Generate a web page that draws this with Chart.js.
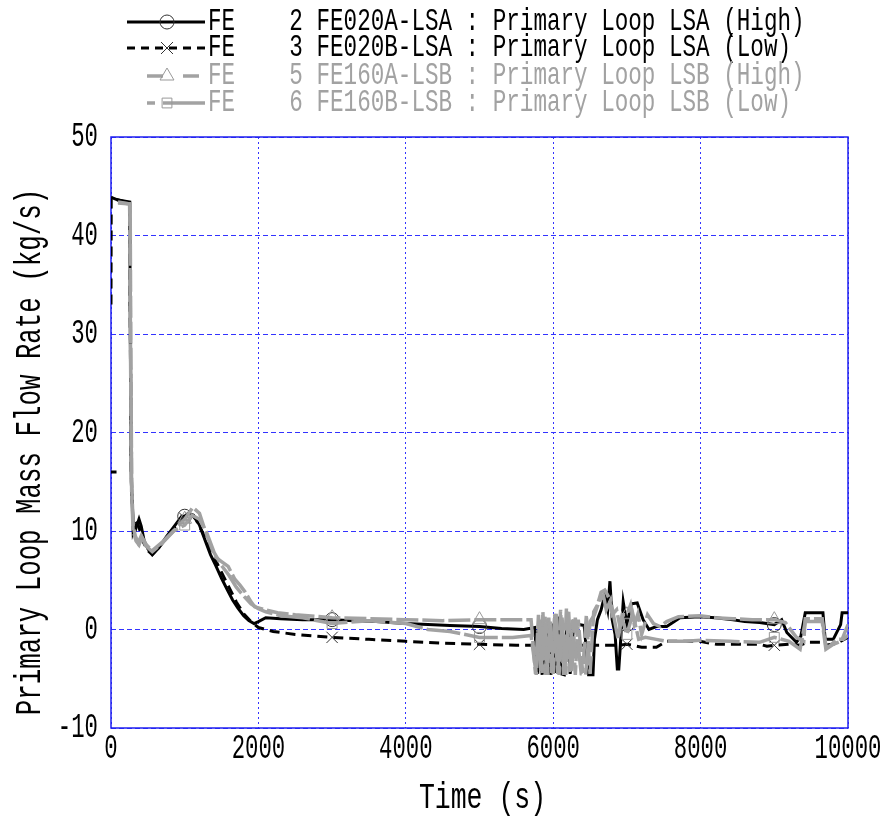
<!DOCTYPE html>
<html>
<head>
<meta charset="utf-8">
<script src="https://cdn.jsdelivr.net/npm/chart.js@4.4.1/dist/chart.umd.min.js"></script>
<style>
  html, body { margin: 0; padding: 0; background: #fff; }
  canvas { display: block; }
</style>
</head>
<body>
<canvas id="flow" width="886" height="816"></canvas>
<script>
// primary loop mass flow rate (kg/s) against time (s), four flow meters

// FE 2  FE020A-LSA  loop A high range
const fe2Time = [
  0, 30, 95, 255, 262, 275, 300, 340, 380, 410,
  450, 500, 560, 650, 750, 850, 960, 1000, 1050, 1120,
  1200, 1280, 1350, 1420, 1500, 1580, 1650, 1720, 1800, 1870,
  1940, 2000, 2100, 2300, 2600, 3000, 3300, 3600, 4000, 4300,
  4600, 5000, 5300, 5600, 5750, 5790, 5810, 5850, 5870, 5910,
  5930, 5970, 5990, 6030, 6060, 6110, 6150, 6190, 6230, 6280,
  6350, 6420, 6480, 6500, 6540, 6560, 6600, 6650, 6700, 6740,
  6770, 6800, 6840, 6870, 6890, 6950, 7000, 7060, 7140, 7220,
  7300, 7400, 7540, 7720, 7990, 8200, 8440, 8600, 8800, 9000,
  9100, 9170, 9300, 9360, 9420, 9500, 9660, 9690, 9720, 9800,
  9900, 9920, 10000
];
const fe2Flow = [
  43.9, 43.8, 43.6, 43.4, 30, 15, 11, 10.3, 11.2, 10.5,
  9.0, 8.2, 7.6, 8.3, 9.4, 10.4, 11.5, 11.5, 11.8, 11.6,
  10.6, 9.0, 7.6, 6.5, 5.2, 4.0, 3.0, 2.2, 1.4, 0.9,
  0.6, 0.8, 1.2, 1.1, 1.0, 1.0, 0.9, 0.8, 0.6, 0.5,
  0.4, 0.3, 0.1, 0.0, 0.2, -4.5, 0.6, -4.6, 0.9, -4.5,
  1.0, -4.6, 0.6, -4.4, 1.3, -4.5, -4.6, 1.0, -4.5, 0.8,
  0.5, 0.4, -4.6, -4.6, -4.6, -1.0, 1.0, 2.0, 3.5, 2.0,
  4.9, 1.0, -0.5, -4.0, -4.0, 2.8, 0.5, 2.6, 2.7, 1.0,
  0.0, 0.3, 0.3, 1.2, 1.3, 1.2, 1.0, 0.8, 0.7, 0.5,
  1.0, -0.3, -1.3, -0.7, 1.7, 1.7, 1.7, -1.0, -1.0, -1.0,
  0.5, 1.7, 1.7
];

// FE 3  FE020B-LSA  loop A low range (short record at 16 kg/s before the trace starts)
const fe3Time = [
  0, 75, 76, 0, 3, 250, 262, 275, 300, 340,
  380, 430, 500, 560, 700, 850, 1000, 1080, 1150, 1280,
  1400, 1500, 1600, 1700, 1800, 1900, 2000, 2200, 2500, 3000,
  3500, 4000, 4500, 5000, 5500, 5800, 6000, 6300, 6600, 6900,
  7000, 7200, 7400, 7540, 7800, 7990, 8220, 8500, 8800, 8900,
  9000, 9200, 9350, 9450, 9650, 9700, 9850, 10000
];
const fe3Flow = [
  16, 16, null, 33, 43.8, 43.3, 30, 16, 10, 11,
  10.4, 9.0, 8.0, 7.6, 8.8, 10.3, 11.3, 11.8, 11.2, 9.3,
  7.3, 5.8, 4.3, 2.8, 1.6, 0.8, 0.2, -0.2, -0.5, -0.8,
  -1.0, -1.2, -1.4, -1.5, -1.6, -1.6, -1.6, -1.6, -1.6, -1.6,
  -1.5, -1.8, -1.8, -1.2, -1.2, -1.2, -1.5, -1.5, -1.5, -1.7,
  -1.6, -1.5, -1.6, -1.3, -1.3, -1.6, -1.4, -0.8
];

// FE 5  FE160A-LSB  loop B high range
const fe5Time = [
  95, 260, 268, 280, 300, 330, 370, 410, 470, 560,
  700, 850, 1000, 1110, 1200, 1275, 1350, 1410, 1500, 1590,
  1680, 1750, 1820, 1900, 1950, 2090, 2260, 2500, 3000, 3500,
  4000, 4500, 5000, 5400, 5700, 5760, 5800, 5830, 5860, 5900,
  5940, 5980, 6020, 6060, 6100, 6140, 6180, 6220, 6260, 6300,
  6340, 6400, 6450, 6500, 6550, 6600, 6650, 6700, 6760, 6800,
  6860, 6900, 6950, 7000, 7050, 7100, 7150, 7200, 7280, 7360,
  7450, 7540, 7700, 7990, 8200, 8440, 8700, 9000, 9150, 9300,
  9400, 9420, 9650, 9700, 9750, 9850, 9920, 10000
];
const fe5Flow = [
  43.3, 43.2, 30, 15, 10.5, 9.5, 8.8, 9.5, 8.5, 7.9,
  8.8, 10.0, 11.2, 12.4, 11.8, 10.1, 8.6, 7.4, 6.9, 6.4,
  5.1, 4.5, 3.8, 2.8, 2.3, 2.0, 1.7, 1.5, 1.2, 1.1,
  1.0, 0.9, 1.0, 1.0, 1.0, -4.5, 1.5, -4.2, 1.8, -4.6,
  1.2, -4.4, 1.6, -4.5, 2.0, -4.6, 2.2, -4.3, 1.0, -4.6,
  1.0, -4.4, 1.5, -4.5, 1.8, 2.5, 3.8, 4.0, 3.2, 1.5,
  2.0, 0.5, 1.5, 1.5, 2.5, 0.5, 1.6, -0.5, 1.5, 0.6,
  0.3, 0.8, 1.3, 1.4, 1.2, 1.1, 1.0, 1.0, 0.7, -0.8,
  -1.2, 1.1, 1.1, -1.7, -1.7, -1.0, -1.0, 0.5
];

// FE 6  FE160B-LSB  loop B low range
const fe6Time = [
  95, 255, 265, 280, 300, 340, 380, 420, 480, 560,
  700, 850, 1000, 1100, 1200, 1300, 1400, 1500, 1600, 1700,
  1800, 1900, 2000, 2100, 2300, 2600, 3000, 3500, 4000, 4150,
  4300, 4600, 5000, 5450, 5700, 5770, 5820, 5850, 5890, 5920,
  5960, 6000, 6040, 6080, 6120, 6170, 6210, 6250, 6300, 6380,
  6440, 6500, 6560, 6620, 6680, 6720, 6780, 6830, 6880, 6930,
  7000, 7080, 7160, 7250, 7400, 7540, 7800, 8000, 8400, 8800,
  9000, 9200, 9350, 9420, 9650, 9700, 9800, 9900, 10000
];
const fe6Flow = [
  43.4, 43.2, 28, 14, 10.0, 9.0, 8.6, 9.4, 8.6, 8.0,
  8.9, 10.0, 10.6, 11.6, 11.2, 9.8, 7.8, 6.5, 5.5, 4.3,
  3.4, 2.6, 2.1, 1.8, 1.4, 1.2, 0.6, 0.9, 0.6, 0.3,
  0.0, -0.2, -0.8, -0.8, -0.6, -4.6, 1.0, -4.4, 1.3, -4.6,
  0.8, -4.5, 1.6, -4.6, 1.2, -4.6, 1.8, -4.4, 1.2, -4.5,
  -4.6, 0.8, 1.5, 2.8, 3.5, 2.0, 3.0, 1.0, -1.0, 1.2,
  -0.5, 1.6, -1.0, -0.8, -1.0, -1.2, -1.2, -1.1, -1.2, -1.3,
  -0.8, -1.2, -2.0, 0.8, 0.8, -2.0, -1.5, -1.2, -0.6
];

// marker symbols sit on these times only
const markTimes = [1000, 3000, 5000, 7000, 9000];

const legendNames = [
  'FE    2 FE020A-LSA : Primary Loop LSA (High)',
  'FE    3 FE020B-LSA : Primary Loop LSA (Low)',
  'FE    5 FE160A-LSB : Primary Loop LSB (High)',
  'FE    6 FE160B-LSB : Primary Loop LSB (Low)'
];
const xTitle = 'Time (s)';
const yTitle = 'Primary Loop Mass Flow Rate (kg/s)';

const BLACK = '#000000';
const GRAY = '#a2a2a2';
const BLUE = '#2020f0';
const GRID = '#3333ff';
const MONO = '"Liberation Mono", "DejaVu Sans Mono", monospace';

function pairs(ts, vs) {
  return ts.map((t, i) => ({ x: t, y: vs[i] }));
}

function markRadius(r) {
  return c => (c.raw && markTimes.includes(c.raw.x)) ? r : 0;
}

const series = [
  { data: pairs(fe2Time, fe2Flow), color: BLACK, width: 3, dash: [], point: 'circle', r: 7, order: 4,
    legendDash: [], legendFrom: 127 },
  { data: pairs(fe3Time, fe3Flow), color: BLACK, width: 3, dash: [10, 6], point: 'crossRot', r: 8, order: 3,
    legendDash: [8, 6], legendFrom: 127 },
  { data: pairs(fe5Time, fe5Flow), color: GRAY, width: 3.5, dash: [22, 4], point: 'triangle', r: 8, order: 2,
    legendDash: [16, 20], legendFrom: 147 },
  { data: pairs(fe6Time, fe6Flow), color: GRAY, width: 3.5, dash: [34, 4], point: 'rect', r: 7, order: 1,
    legendDash: [8, 8, 60], legendFrom: 147 }
];

// half-width gothic look: monospace stretched vertically
function tallText(ctx, str, x, y, o) {
  ctx.save();
  ctx.translate(x, y);
  if (o.rot) ctx.rotate(o.rot);
  ctx.scale(1, o.stretch || 1.45);
  ctx.font = o.size + 'px ' + MONO;
  ctx.fillStyle = o.color || BLACK;
  ctx.textAlign = o.align || 'left';
  ctx.textBaseline = 'middle';
  ctx.fillText(str, 0, 0);
  ctx.restore();
}

function drawMarker(ctx, style, x, y, r, color) {
  ctx.save();
  ctx.strokeStyle = color;
  ctx.lineWidth = 1;
  ctx.setLineDash([]);
  ctx.beginPath();
  if (style === 'circle') {
    ctx.arc(x, y, r, 0, Math.PI * 2);
  } else if (style === 'crossRot') {
    const d = r * 0.75;
    ctx.moveTo(x - d, y - d); ctx.lineTo(x + d, y + d);
    ctx.moveTo(x + d, y - d); ctx.lineTo(x - d, y + d);
  } else if (style === 'triangle') {
    ctx.moveTo(x, y - r); ctx.lineTo(x + r * 0.87, y + r * 0.5); ctx.lineTo(x - r * 0.87, y + r * 0.5);
    ctx.closePath();
  } else {
    ctx.rect(x - r * 0.7, y - r * 0.7, r * 1.4, r * 1.4);
  }
  ctx.stroke();
  ctx.restore();
}

// plot frame, drawn under the curves
const framePlugin = {
  id: 'frame',
  beforeDatasetsDraw(chart) {
    const a = chart.chartArea, ctx = chart.ctx;
    ctx.save();
    ctx.strokeStyle = BLUE;
    ctx.lineWidth = 1.5;
    ctx.strokeRect(a.left, a.top, a.right - a.left, a.bottom - a.top);
    ctx.restore();
  }
};

// tick labels and axis titles
const axisTextPlugin = {
  id: 'axisText',
  afterDraw(chart) {
    const ctx = chart.ctx, xs = chart.scales.x, ys = chart.scales.y, a = chart.chartArea;
    xs.ticks.forEach(t => {
      tallText(ctx, String(t.value), xs.getPixelForValue(t.value), a.bottom + 21, { size: 22.3, align: 'center', stretch: 1.55 });
    });
    ys.ticks.forEach(t => {
      tallText(ctx, String(t.value), a.left - 13, ys.getPixelForValue(t.value), { size: 22.3, align: 'right', stretch: 1.55 });
    });
    tallText(ctx, xTitle, (a.left + a.right) / 2 + 3, a.bottom + 70, { size: 26.5, align: 'center', stretch: 1.4 });
    tallText(ctx, yTitle, 30, 452, { size: 25.8, align: 'center', rot: -Math.PI / 2, stretch: 1.45 });
  }
};

const legendPlugin = {
  id: 'sampleLegend',
  afterDraw(chart) {
    const ctx = chart.ctx;
    const rows = [22, 48, 76, 103];
    series.forEach((s, i) => {
      const y = rows[i];
      ctx.save();
      ctx.strokeStyle = s.color;
      ctx.lineWidth = s.width;
      ctx.setLineDash(s.legendDash);
      ctx.beginPath();
      ctx.moveTo(s.legendFrom, y);
      ctx.lineTo(205, y);
      ctx.stroke();
      ctx.restore();
      drawMarker(ctx, s.point, 167, y, s.r, s.color === BLACK ? '#333333' : '#999999');
      tallText(ctx, legendNames[i], 208, y, { size: 22.6, color: s.color, stretch: 1.38 });
    });
  }
};

new Chart(document.getElementById('flow'), {
  type: 'line',
  data: {
    datasets: series.map((s, i) => ({
      label: legendNames[i],
      data: s.data,
      borderColor: s.color,
      borderWidth: s.width,
      borderDash: s.dash,
      tension: 0,
      fill: false,
      spanGaps: false,
      order: s.order,
      pointStyle: s.point,
      pointRadius: markRadius(s.r),
      pointHoverRadius: 0,
      pointBorderWidth: 1,
      pointBorderColor: s.color === BLACK ? '#333333' : '#999999',
      pointBackgroundColor: 'rgba(0,0,0,0)'
    }))
  },
  options: {
    responsive: false,
    animation: false,
    devicePixelRatio: 1,
    layout: { padding: { top: 137, right: 38, left: 0, bottom: 0 } },
    plugins: { legend: { display: false }, tooltip: { enabled: false } },
    scales: {
      x: {
        type: 'linear', min: 0, max: 10000,
        ticks: { stepSize: 2000, display: false },
        grid: { color: GRID, lineWidth: 1, drawTicks: false },
        border: { display: false, dash: [2, 3] },
        afterFit(scale) { scale.height = 88; }
      },
      y: {
        type: 'linear', min: -10, max: 50,
        ticks: { stepSize: 10, display: false },
        grid: { color: GRID, lineWidth: 1, drawTicks: false },
        border: { display: false, dash: [5, 3] },
        afterFit(scale) { scale.width = 111; }
      }
    }
  },
  plugins: [framePlugin, axisTextPlugin, legendPlugin]
});
</script>
</body>
</html>
